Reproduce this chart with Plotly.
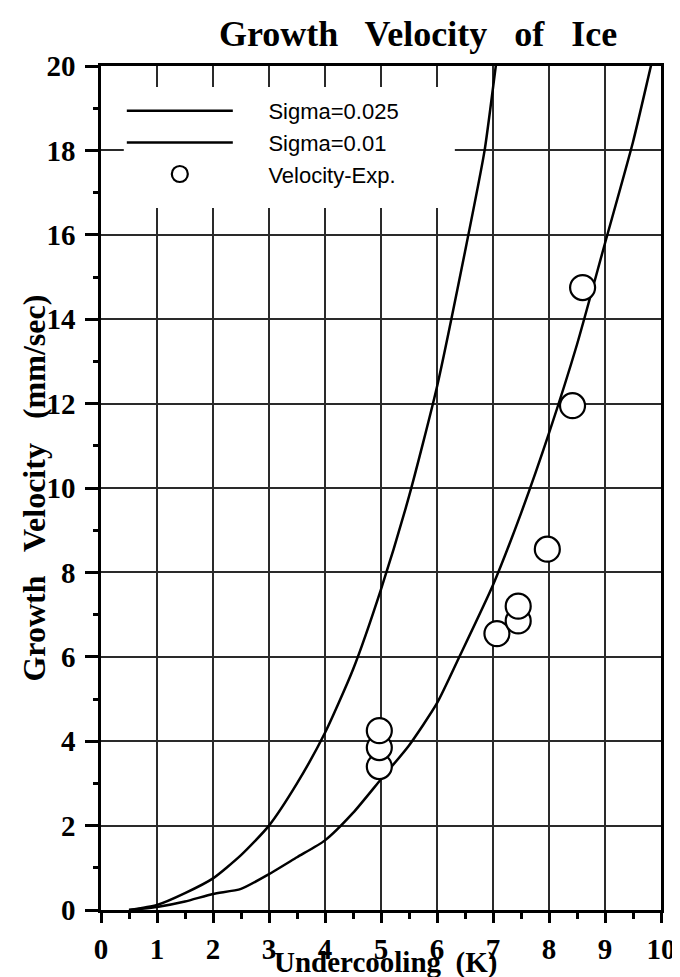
import plotly.graph_objects as go

# ---- data ----
sigma025_x = [0.5, 1.0, 1.5, 2.0, 2.5, 3.0, 3.5, 4.0, 4.5, 5.0, 5.5, 6.0, 6.5, 6.85, 7.05, 7.2]
sigma025_y = [0.0, 0.12, 0.4, 0.75, 1.3, 2.0, 3.0, 4.2, 5.7, 7.6, 9.8, 12.4, 15.6, 18.0, 20.0, 21.5]

sigma01_x = [0.5, 1.0, 1.5, 2.0, 2.5, 3.0, 3.5, 4.0, 4.5, 5.0, 5.5, 6.0, 6.4, 7.0, 7.5, 8.0, 8.5, 9.0, 9.5, 9.82, 10.0]
sigma01_y = [0.0, 0.07, 0.2, 0.38, 0.5, 0.85, 1.25, 1.65, 2.3, 3.1, 3.9, 4.9, 6.0, 7.7, 9.4, 11.3, 13.4, 15.8, 18.2, 20.0, 21.0]

exp_x = [4.97, 4.97, 4.97, 7.07, 7.45, 7.45, 7.97, 8.42, 8.6]
exp_y = [3.4, 3.85, 4.25, 6.55, 6.85, 7.2, 8.55, 11.95, 14.75]

x_ticks = list(range(0, 11))
y_ticks = list(range(0, 21, 2))

series_names = ["Sigma=0.025", "Sigma=0.01", "Velocity-Exp."]

SERIF = "Liberation Serif"
SANS = "Liberation Sans"
PAD = "\u00a0" * 5

fig = go.Figure()
fig.add_trace(go.Scatter(x=sigma025_x, y=sigma025_y, mode="lines", name=PAD + series_names[0],
                         line=dict(color="black", width=2.5, shape="spline", smoothing=0.6),
                         legendgroup="a"))
fig.add_trace(go.Scatter(x=sigma01_x, y=sigma01_y, mode="lines", name=PAD + series_names[1],
                         line=dict(color="black", width=2.5, shape="spline", smoothing=0.6),
                         legendgroup="b"))
fig.add_trace(go.Scatter(x=exp_x, y=exp_y, mode="markers", name=PAD + series_names[2],
                         marker=dict(symbol="circle", size=25, color="white",
                                     line=dict(color="black", width=2.2)),
                         cliponaxis=False, legendgroup="c"))

fig.update_layout(
    width=680, height=977,
    margin=dict(l=93, r=22, t=58, b=75),
    paper_bgcolor="white", plot_bgcolor="white",
    title=dict(text="<b>Growth   Velocity   of   Ice</b>", x=0.603, xref="container", xanchor="center",
               y=1 - 25 / 977, yref="container", yanchor="middle",
               font=dict(family=SERIF, size=36, color="black")),
    showlegend=True,
    legend=dict(x=(114 - 93) / 565, y=(902 - 82) / 844, xanchor="left", yanchor="top",
                bgcolor="rgba(0,0,0,0)",
                font=dict(family=SANS, size=22, color="black"), itemwidth=106,
                tracegroupgap=0, itemsizing="trace"),
    xaxis=dict(range=[0, 10], tickvals=x_ticks, ticktext=[str(v) for v in x_ticks],
               showgrid=True, gridcolor="#2a2a2a", gridwidth=1.5,
               showline=True, linecolor="black", linewidth=2.5, mirror=True,
               ticks="outside", ticklen=10, tickwidth=2.5, tickcolor="black",
               ticklabelstandoff=1,
               minor=dict(dtick=0.5, ticks="outside", ticklen=6, tickwidth=2.5, tickcolor="black", showgrid=False),
               tickfont=dict(family=SERIF, size=29, color="black", weight="bold"),
               zeroline=False),
    yaxis=dict(range=[0, 20], tickvals=y_ticks, ticktext=[str(v) for v in y_ticks],
               showgrid=True, gridcolor="#2a2a2a", gridwidth=1.5,
               showline=True, linecolor="black", linewidth=2.5, mirror=True,
               ticks="outside", ticklen=13, tickwidth=2.5, tickcolor="black",
               ticklabelstandoff=4,
               minor=dict(dtick=1, ticks="outside", ticklen=5, tickwidth=2.5, tickcolor="black", showgrid=False),
               tickfont=dict(family=SERIF, size=29, color="black", weight="bold"),
               zeroline=False),
)

# white area behind the legend (covers grid, as in the original)
fig.add_shape(type="rect", xref="paper", yref="paper",
              x0=(116 - 93) / 565, x1=(450 - 93) / 565,
              y0=(902 - 200) / 844, y1=(902 - 79) / 844,
              fillcolor="white", line=dict(width=0), layer="above")

# axis titles
fig.add_annotation(text="<b>Undercooling  (K)</b>", xref="paper", yref="paper",
                   x=(380 - 93) / 565, y=(902 - 955) / 844, xanchor="center", yanchor="middle",
                   showarrow=False, font=dict(family=SERIF, size=29, color="black"))
fig.add_annotation(text="<b>Growth   Velocity   (mm/sec)</b>", xref="paper", yref="paper",
                   x=(25 - 93) / 565, y=(902 - 480) / 844, xanchor="center", yanchor="middle",
                   textangle=-90, showarrow=False, font=dict(family=SERIF, size=32, color="black"))

fig.write_html("out.html")
